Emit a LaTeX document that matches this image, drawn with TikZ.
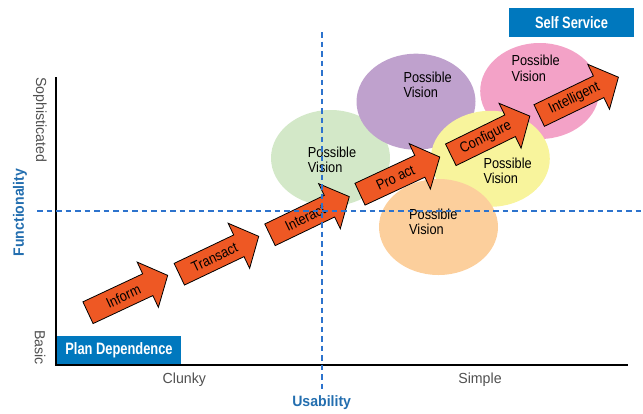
\documentclass[tikz,border=0pt]{standalone}
\usepackage{fontspec}
\setmainfont{Liberation Sans}
\newfontfamily\narrowfont{Liberation Sans}[FakeStretch=0.88]
\newfontfamily\scalefont{Liberation Sans}[FakeStretch=0.97]
\newfontfamily\axisfont{Liberation Sans}[FakeStretch=0.94]
\newfontfamily\boxfont{Liberation Sans}[FakeStretch=0.78]
\usetikzlibrary{shapes.geometric}

\definecolor{brandblue}{RGB}{0,120,190}
\definecolor{axisblue}{RGB}{35,110,175}
\definecolor{dashblue}{RGB}{45,115,205}
\definecolor{stageorange}{RGB}{238,88,36}
\definecolor{labelgray}{RGB}{80,80,80}
\definecolor{visgreen}{RGB}{211,232,200}
\definecolor{vispurple}{RGB}{191,161,205}
\definecolor{vispink}{RGB}{243,162,199}
\definecolor{visyellow}{RGB}{248,244,156}
\definecolor{vispeach}{RGB}{252,207,156}

\tikzset{
  axisline/.style={line width=2pt},
  guide/.style={draw=dashblue, line width=1.1pt, dash pattern=on 5.5pt off 4pt},
  vision/.style={ellipse, minimum width=119pt, minimum height=96pt, inner sep=0pt, draw=none},
  visiontext/.style={anchor=north west, inner sep=0pt, align=left,
    font=\narrowfont\fontsize{14.5}{15.5}\selectfont},
  stagebody/.style={draw=black, line width=0.8pt, fill=stageorange, line join=miter},
  stagelabel/.style={inner sep=0pt, font=\narrowfont\fontsize{14.5}{16}\selectfont},
  bluebox/.style={fill=brandblue, text=white, inner sep=0pt,
    font=\boxfont\bfseries\fontsize{16.5}{18}\selectfont},
  scalelabel/.style={text=labelgray, inner sep=0pt, font=\scalefont\fontsize{14.6}{16}\selectfont},
  axistitle/.style={text=axisblue, inner sep=0pt, font=\axisfont\bfseries\fontsize{15}{17}\selectfont}
}

% one block arrow of the maturity path: name, tail midpoint, angle, label
\newcommand{\stagearrow}[4]{%
  \begin{scope}[shift={#2}, rotate=#3]
    \draw[stagebody] (0,-12) -- (66,-12) -- (66,-25) -- (88,0) -- (66,25) -- (66,12) -- (0,12) -- cycle;
    \node[stagelabel, rotate=#3] (#1) at (39,0) {#4};
  \end{scope}}

\begin{document}
\begin{tikzpicture}[x=1pt, y=1pt]
  \useasboundingbox (0,0) rectangle (643,-413);

  % possible visions
  \node[vision, fill=visgreen]  (vgreen)  at (330.5,-158) {};
  \node[vision, fill=vispurple] (vpurple) at (416,-101.7) {};
  \node[vision, fill=vispink]   (vpink)   at (539.7,-91) {};
  \node[vision, fill=visyellow] (vyellow) at (490.3,-158.8) {};
  \node[vision, fill=vispeach]  (vpeach)  at (438.5,-227) {};

  \node[visiontext] (tgreen)  at (307.7,-146.5) {Possible\\Vision};
  \node[visiontext] (tpurple) at (403.3,-71.7)  {Possible\\Vision};
  \node[visiontext] (tpink)   at (511.3,-55)    {Possible\\Vision};
  \node[visiontext] (tyellow) at (483.3,-157.3) {Possible\\Vision};
  \node[visiontext] (tpeach)  at (409,-208.3)   {Possible\\Vision};

  % corner boxes
  \node[bluebox, minimum width=124pt, minimum height=28pt] (plandep) at (119,-350) {Plan Dependence};
  \node[bluebox, minimum width=125pt, minimum height=29pt] (selfservice) at (571.5,-22.8) {Self Service};

  % axes
  \coordinate (ytop) at (56,-77);
  \coordinate (origin) at (56,-365);
  \coordinate (xend) at (628,-365);
  \draw[axisline] (ytop) -- (origin) -- (xend);

  % maturity path
  \stagearrow{inform}{(88,-312.7)}{25.1}{Inform}
  \stagearrow{transact}{(179.3,-274.2)}{25.5}{Transact}
  \stagearrow{interact}{(270,-234.8)}{25.7}{Interact}
  \stagearrow{proact}{(360,-194.2)}{25}{Pro act}
  \stagearrow{configure}{(450.8,-154.8)}{26.1}{Configure}
  \stagearrow{intelligent}{(539.2,-115.5)}{25.8}{Intelligent}

  % quadrant guides
  \coordinate (vtop) at (322,-32);
  \coordinate (vbot) at (322,-392);
  \coordinate (hleft) at (37,-211);
  \coordinate (hright) at (643,-211);
  \draw[guide] (vtop) -- (vbot);
  \draw[guide] (hleft) -- (hright);

  % axis scale labels
  \node[scalelabel, rotate=-90] (sophisticated) at (40,-120) {Sophisticated};
  \node[scalelabel, rotate=-90] (basic) at (40,-347.5) {Basic};
  \node[scalelabel] (clunky) at (184.3,-380) {Clunky};
  \node[scalelabel] (simple) at (480,-380) {Simple};

  % axis titles
  \node[axistitle, rotate=90] (functionality) at (20,-212.5) {Functionality};
  \node[axistitle] (usability) at (321.7,-403) {Usability};
\end{tikzpicture}
\end{document}
